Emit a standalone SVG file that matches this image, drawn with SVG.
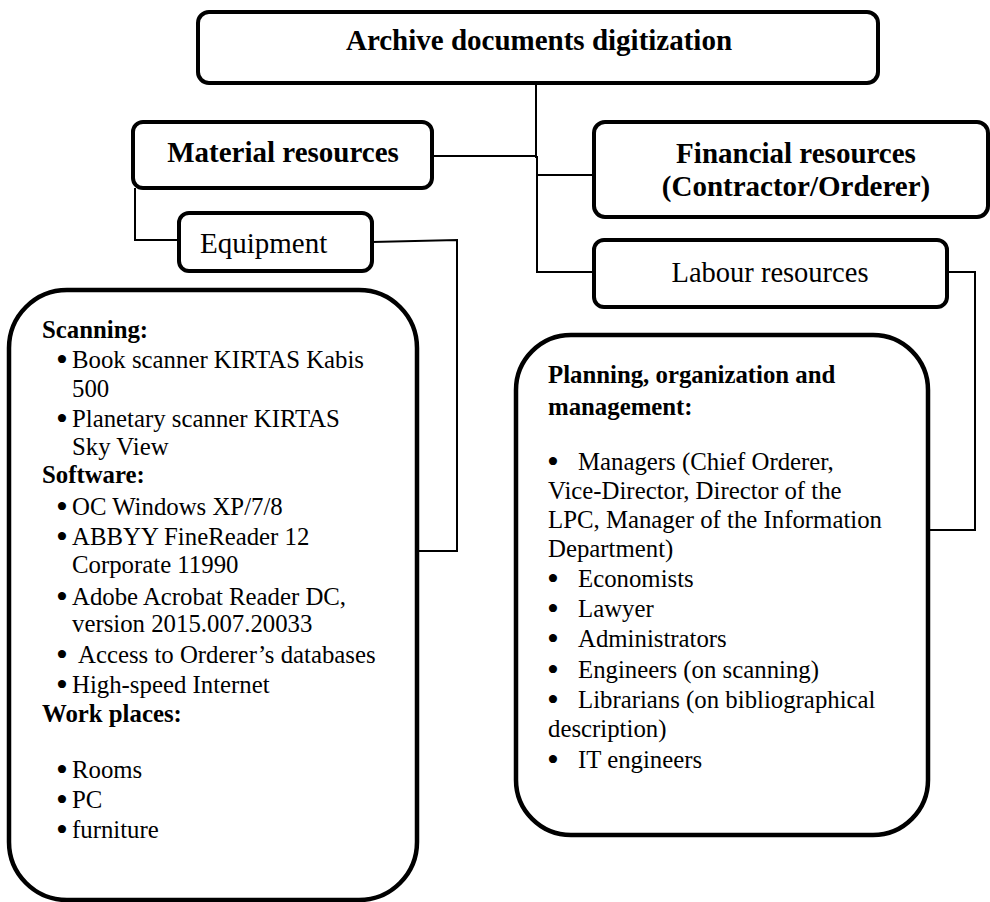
<svg xmlns="http://www.w3.org/2000/svg" width="990" height="902" viewBox="0 0 990 902" font-family="'Liberation Serif', serif">
<style>
.box{fill:#fff;stroke:#000;stroke-width:4}
.big{fill:#fff;stroke:#000;stroke-width:4.5}
.con{fill:none;stroke:#000;stroke-width:2}
text{font-family:'Liberation Serif', serif;fill:#000}
.h{font-size:29px;font-weight:bold;text-anchor:middle}
.r{font-size:29px}
.t{font-size:24.8px}
.b{font-weight:bold}
.bl{font-size:34px;text-anchor:middle}
</style>
<rect width="990" height="902" fill="#fff"/>
<g id="connectors">
<polyline class="con" points="536,83 536,157 537,157 537,272 594,272"/>
<line class="con" x1="432" y1="156" x2="537" y2="156"/>
<line class="con" x1="537" y1="175" x2="594" y2="175"/>
<polyline class="con" points="135,188 135,240 179,240"/>
<polyline class="con" points="372,242 457,240 457,551 417,551"/>
<polyline class="con" points="947,272 975,272 975,530 928,530"/>
</g>
<g id="archive">
<rect class="box" x="198" y="12" width="680" height="71" rx="11"/>
<text class="h" x="539" y="50">Archive documents digitization</text>
</g>
<g id="material">
<rect class="box" x="133" y="122" width="299" height="66" rx="10"/>
<text class="h" x="283" y="162">Material resources</text>
</g>
<g id="financial">
<rect class="box" x="594" y="122" width="394" height="95" rx="11"/>
<text class="h" x="796" y="163">Financial resources</text>
<text class="h" x="796" y="196">(Contractor/Orderer)</text>
</g>
<g id="labour">
<rect class="box" x="594" y="240" width="353" height="67" rx="10"/>
<text class="r" x="770" y="282" text-anchor="middle" style="font-size:28.5px">Labour resources</text>
</g>
<g id="equipment">
<rect class="box" x="179" y="213" width="193" height="58" rx="10"/>
<text class="r" x="200" y="253">Equipment</text>
</g>
<g id="scanning">
<rect class="big" x="9" y="290" width="408" height="610" rx="58"/>
<text class="t b" x="42" y="338">Scanning:</text>
<text class="bl" x="62" y="371">•</text><text class="t" x="72" y="368">Book scanner KIRTAS Kabis</text>
<text class="t" x="72" y="397">500</text>
<text class="bl" x="62" y="430">•</text><text class="t" x="72" y="427">Planetary scanner KIRTAS</text>
<text class="t" x="72" y="455">Sky View</text>
<text class="t b" x="42" y="483">Software:</text>
<text class="bl" x="62" y="518">•</text><text class="t" x="72" y="515">OC Windows XP/7/8</text>
<text class="bl" x="62" y="548">•</text><text class="t" x="72" y="545">ABBYY FineReader 12</text>
<text class="t" x="72" y="573">Corporate 11990</text>
<text class="bl" x="62" y="608">•</text><text class="t" x="72" y="605">Adobe Acrobat Reader DC,</text>
<text class="t" x="72" y="632">version 2015.007.20033</text>
<text class="bl" x="62" y="666">•</text><text class="t" x="78" y="663">Access to Orderer’s databases</text>
<text class="bl" x="62" y="696">•</text><text class="t" x="72" y="693">High-speed Internet</text>
<text class="t b" x="42" y="722">Work places:</text>
<text class="bl" x="62" y="781">•</text><text class="t" x="72" y="778">Rooms</text>
<text class="bl" x="62" y="811">•</text><text class="t" x="72" y="808">PC</text>
<text class="bl" x="62" y="841">•</text><text class="t" x="72" y="838">furniture</text>
</g>
<g id="planning">
<rect class="big" x="516" y="335" width="412" height="500" rx="55"/>
<text class="t b" x="548" y="383">Planning, organization and</text>
<text class="t b" x="548" y="415">management:</text>
<text class="bl" x="553" y="473">•</text><text class="t" x="578" y="470">Managers (Chief Orderer,</text>
<text class="t" x="548" y="499">Vice-Director, Director of the</text>
<text class="t" x="548" y="528">LPC, Manager of the Information</text>
<text class="t" x="548" y="557">Department)</text>
<text class="bl" x="553" y="590">•</text><text class="t" x="578" y="587">Economists</text>
<text class="bl" x="553" y="620">•</text><text class="t" x="578" y="617">Lawyer</text>
<text class="bl" x="553" y="650">•</text><text class="t" x="578" y="647">Administrators</text>
<text class="bl" x="553" y="681">•</text><text class="t" x="578" y="678">Engineers (on scanning)</text>
<text class="bl" x="553" y="711">•</text><text class="t" x="578" y="708">Librarians (on bibliographical</text>
<text class="t" x="548" y="737">description)</text>
<text class="bl" x="553" y="771">•</text><text class="t" x="578" y="768">IT engineers</text>
</g>
</svg>
